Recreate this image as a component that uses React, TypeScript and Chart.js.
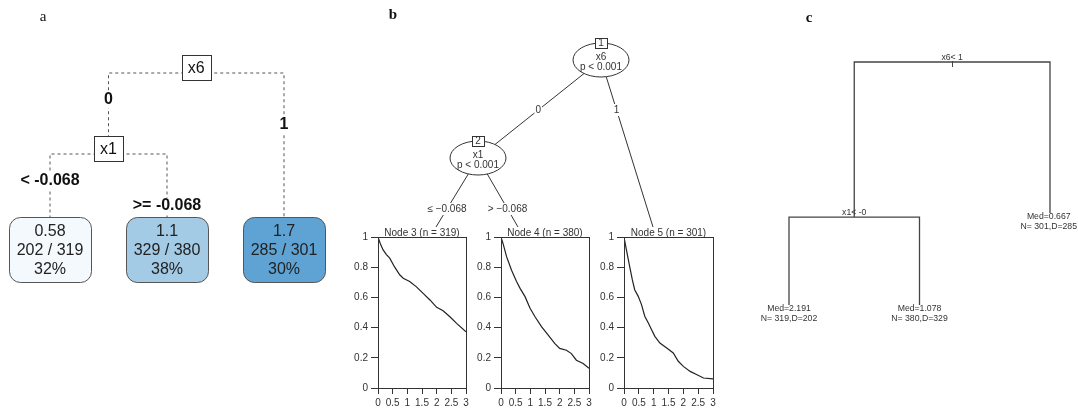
import React, { useEffect, useRef } from "react";
import { Chart, registerables } from "chart.js";

Chart.register(...registerables);

const SANS = "'Liberation Sans', Arial, Helvetica, sans-serif";
const SERIF = "'Liberation Serif', 'Times New Roman', serif";
Chart.defaults.font.family = SANS;

// ================= DATA =================
// Panel a (rpart.plot)
const aSplitVars = ["x6", "x1"];
const aEdgeLabels = ["0", "1", "< -0.068", ">= -0.068"];
const aLeafMeans = ["0.58", "1.1", "1.7"];
const aLeafEvents = [202, 329, 285];
const aLeafN = [319, 380, 301];
const aLeafPct = ["32%", "38%", "30%"];
const aLeafColors = ["#f4f9fe", "#a3cbe6", "#5ea3d3"];

// Panel b (ctree)
const bInnerIds = [1, 2];
const bInnerVars = ["x6", "x1"];
const bInnerP = ["p < 0.001", "p < 0.001"];
const bEdgeLabels = ["0", "1", "\u2264 \u22120.068", "> \u22120.068"];
const bTermIds = [3, 4, 5];
const bTermN = [319, 380, 301];

const surv3Time = [0, 0.08, 0.17, 0.28, 0.4, 0.57, 0.74, 0.86, 1.08, 1.31, 1.54, 1.77, 2.0, 2.22, 2.45, 2.68, 3.0];
const surv3Prob = [1, 0.955, 0.916, 0.885, 0.86, 0.8, 0.75, 0.727, 0.705, 0.67, 0.627, 0.583, 0.534, 0.512, 0.472, 0.428, 0.372];
const surv4Time = [0, 0.08, 0.19, 0.36, 0.53, 0.65, 0.82, 0.99, 1.16, 1.38, 1.61, 1.83, 2.0, 2.23, 2.4, 2.57, 2.8, 3.0];
const surv4Prob = [1, 0.95, 0.87, 0.78, 0.705, 0.66, 0.605, 0.528, 0.472, 0.406, 0.35, 0.295, 0.262, 0.25, 0.228, 0.184, 0.162, 0.13];
const surv5Time = [0, 0.08, 0.19, 0.28, 0.36, 0.48, 0.59, 0.7, 0.82, 0.93, 1.04, 1.21, 1.44, 1.66, 1.83, 2.0, 2.23, 2.46, 2.68, 3.0];
const surv5Prob = [1, 0.916, 0.806, 0.717, 0.651, 0.607, 0.552, 0.475, 0.43, 0.386, 0.342, 0.298, 0.265, 0.232, 0.177, 0.143, 0.11, 0.088, 0.066, 0.06];
const survTimes = [surv3Time, surv4Time, surv5Time];
const survProbs = [surv3Prob, surv4Prob, surv5Prob];
const survYTicks = [0, 0.2, 0.4, 0.6, 0.8, 1];
const survXTicks = [0, 0.5, 1, 1.5, 2, 2.5, 3];

// Panel c (rpart plot)
const cSplitLabels = ["x6< 1", "x1< -0"];
const cLeafMed = ["2.191", "1.078", "0.667"];
const cLeafN = [319, 380, 301];
const cLeafD = [202, 329, 285];
const cSplitHeight = [1, 0.362];
const cLeafHeight = [0, 0, 0.379];

// ================= LAYOUT =================
const A_W = 360, A_H = 414;
const A_LEAF_X0 = 50, A_LEAF_STEP = 117, A_TOP0 = 55, A_DEPTH_STEP = 81, A_BAR = 18;
const B_W = 360, B_H = 232;
const bPos: Record<string, [number, number]> = {
  n1: [241, 60], n2: [118, 158], t3: [76, 227], t4: [158, 227], t5: [293, 227],
};
const bEdges = [
  { from: "n1", to: "n2", label: 0, ly: 110 },
  { from: "n1", to: "t5", label: 1, ly: 110 },
  { from: "n2", to: "t3", label: 2, ly: 209 },
  { from: "n2", to: "t4", label: 3, ly: 209 },
];
const bSurvPlotLeft = [378, 501, 624];
const bSurvPlotWidth = [88, 88, 89];
const C_W = 358, C_H = 414;
const C_LEAF_X0 = 69, C_LEAF_STEP = 130.5, C_BOTTOM = 305, C_TOPPX = 62;

type TNode = { split?: number; leaf?: number; edge?: number; kids?: TNode[]; x?: number; d?: number };

function layoutTree(n: TNode, d: number): number {
  n.d = d;
  if (n.kids) {
    const xs = n.kids.map((k) => layoutTree(k, d + 1));
    n.x = (xs[0] + xs[xs.length - 1]) / 2;
  } else n.x = n.leaf!;
  return n.x!;
}
function collect(n: TNode, out: TNode[] = []): TNode[] {
  out.push(n);
  (n.kids || []).forEach((k) => collect(k, out));
  return out;
}

const baseOptions = (xMin: number, xMax: number, yMin: number, yMax: number, reverse: boolean) => ({
  responsive: false,
  animation: false,
  events: [],
  layout: { padding: 0 },
  plugins: { legend: { display: false }, tooltip: { enabled: false } },
  scales: {
    x: { type: "linear", min: xMin, max: xMax, display: false },
    y: { type: "linear", min: yMin, max: yMax, reverse, display: false },
  },
});

// ---------- Panel a ----------
function makePanelA() {
  const tree: TNode = {
    split: 0,
    kids: [
      { edge: 0, split: 1, kids: [{ edge: 2, leaf: 0 }, { edge: 3, leaf: 1 }] },
      { edge: 1, leaf: 2 },
    ],
  };
  layoutTree(tree, 0);
  const nodes = collect(tree);
  // rpart.plot puts all leaves on the bottom row
  const maxDepth = Math.max(...nodes.map((n) => n.d!));
  nodes.filter((n) => !n.kids).forEach((n) => { n.d = maxDepth; });
  const bar = A_BAR / A_DEPTH_STEP;
  const datasets: any[] = [];
  nodes.filter((n) => n.kids).forEach((s) => {
    s.kids!.forEach((k) => {
      datasets.push({
        data: [{ x: s.x, y: s.d! + bar }, { x: k.x, y: s.d! + bar }, { x: k.x, y: k.d }],
        showLine: true, borderColor: "#555", borderWidth: 1, borderDash: [3, 3], pointRadius: 0,
      });
    });
  });
  const plugin = {
    id: "panelA",
    afterDraw(chart: any) {
      const { ctx } = chart;
      const xs = chart.scales.x, ys = chart.scales.y;
      ctx.save();
      ctx.textAlign = "center";
      ctx.textBaseline = "middle";
      ctx.fillStyle = "#111";
      ctx.font = `15px ${SERIF}`;
      ctx.fillText("a", 43, 17);
      // edge labels
      ctx.font = `bold 16px ${SANS}`;
      nodes.filter((n) => n.kids).forEach((s) => {
        const barPx = ys.getPixelForValue(s.d! + bar);
        s.kids!.forEach((k, i) => {
          const txt = aEdgeLabels[k.edge!];
          const x = xs.getPixelForValue(k.x);
          const y = barPx + (i === 0 ? 27 : 52);
          const w = ctx.measureText(txt).width;
          ctx.fillStyle = "#fff";
          ctx.fillRect(x - w / 2 - 2, y - 8, w + 4, 16);
          ctx.fillStyle = "#111";
          ctx.fillText(txt, x, y);
        });
      });
      // split boxes
      ctx.font = `16px ${SANS}`;
      nodes.filter((n) => n.kids).forEach((s) => {
        const txt = aSplitVars[s.split!];
        const cx = xs.getPixelForValue(s.x), top = ys.getPixelForValue(s.d);
        const w = Math.round(ctx.measureText(txt).width + 12);
        ctx.fillStyle = "#fff";
        ctx.fillRect(Math.round(cx - w / 2) + 0.5, Math.round(top) + 0.5, w, 25);
        ctx.strokeStyle = "#333";
        ctx.lineWidth = 1;
        ctx.strokeRect(Math.round(cx - w / 2) + 0.5, Math.round(top) + 0.5, w, 25);
        ctx.fillStyle = "#111";
        ctx.fillText(txt, cx, top + 13.5);
      });
      // leaves
      nodes.filter((n) => !n.kids).forEach((l) => {
        const i = l.leaf!;
        const cx = xs.getPixelForValue(l.x), top = ys.getPixelForValue(l.d);
        const w = 82, h = 65;
        ctx.beginPath();
        ctx.roundRect(Math.round(cx - w / 2) + 0.5, Math.round(top) + 0.5, w, h, 11);
        ctx.fillStyle = aLeafColors[i];
        ctx.fill();
        ctx.strokeStyle = "#555";
        ctx.lineWidth = 1;
        ctx.stroke();
        ctx.fillStyle = "#222";
        ctx.font = `16px ${SANS}`;
        ctx.fillText(aLeafMeans[i], cx, top + 15);
        ctx.fillText(`${aLeafEvents[i]} / ${aLeafN[i]}`, cx, top + 34);
        ctx.fillText(aLeafPct[i], cx, top + 53);
      });
      ctx.restore();
    },
  };
  return {
    type: "scatter",
    data: { datasets },
    options: baseOptions(-A_LEAF_X0 / A_LEAF_STEP, (A_W - A_LEAF_X0) / A_LEAF_STEP, -A_TOP0 / A_DEPTH_STEP, (A_H - A_TOP0) / A_DEPTH_STEP, true),
    plugins: [plugin],
  };
}

// ---------- Panel b tree ----------
function makePanelBTree() {
  const datasets = bEdges.map((e) => ({
    data: [{ x: bPos[e.from][0], y: bPos[e.from][1] }, { x: bPos[e.to][0], y: bPos[e.to][1] }],
    showLine: true, borderColor: "#333", borderWidth: 1, pointRadius: 0,
  }));
  const plugin = {
    id: "panelB",
    afterDraw(chart: any) {
      const { ctx } = chart;
      const xs = chart.scales.x, ys = chart.scales.y;
      const P = (k: string) => [xs.getPixelForValue(bPos[k][0]), ys.getPixelForValue(bPos[k][1])];
      ctx.save();
      ctx.textAlign = "center";
      ctx.textBaseline = "middle";
      ctx.fillStyle = "#111";
      ctx.font = `bold 15px ${SERIF}`;
      ctx.fillText("b", 33, 15);
      // edge labels
      ctx.font = `10px ${SANS}`;
      bEdges.forEach((e) => {
        const [x1, y1] = P(e.from), [x2, y2] = P(e.to);
        const ly = ys.getPixelForValue(e.ly);
        const lx = x1 + ((ly - y1) * (x2 - x1)) / (y2 - y1);
        const txt = bEdgeLabels[e.label];
        const w = ctx.measureText(txt).width;
        ctx.fillStyle = "#fff";
        ctx.fillRect(lx - w / 2 - 1, ly - 6, w + 2, 12);
        ctx.fillStyle = "#333";
        ctx.fillText(txt, lx, ly);
      });
      // inner nodes
      ["n1", "n2"].forEach((k, i) => {
        const [cx, cy] = P(k);
        ctx.beginPath();
        ctx.ellipse(cx, cy, 28, 17, 0, 0, Math.PI * 2);
        ctx.fillStyle = "#fff";
        ctx.fill();
        ctx.strokeStyle = "#333";
        ctx.lineWidth = 1;
        ctx.stroke();
        ctx.fillStyle = "#fff";
        ctx.fillRect(Math.round(cx - 6) + 0.5, Math.round(cy - 22) + 0.5, 12, 10);
        ctx.strokeRect(Math.round(cx - 6) + 0.5, Math.round(cy - 22) + 0.5, 12, 10);
        ctx.fillStyle = "#333";
        ctx.font = `10px ${SANS}`;
        ctx.fillText(String(bInnerIds[i]), cx, cy - 16.5);
        ctx.fillText(bInnerVars[i], cx, cy - 3);
        ctx.fillText(bInnerP[i], cx, cy + 7);
      });
      ctx.restore();
    },
  };
  return {
    type: "scatter",
    data: { datasets },
    options: baseOptions(0, B_W, 0, B_H, true),
    plugins: [plugin],
  };
}

// ---------- Survival panels ----------
function makeSurv(idx: number) {
  const times = survTimes[idx], probs = survProbs[idx];
  const plugin = {
    id: "survFrame",
    afterDraw(chart: any) {
      const { ctx, chartArea: a } = chart;
      ctx.save();
      ctx.strokeStyle = "#333";
      ctx.lineWidth = 1;
      ctx.strokeRect(Math.round(a.left) + 0.5, Math.round(a.top) + 0.5, Math.round(a.right - a.left), Math.round(a.bottom - a.top));
      ctx.fillStyle = "#333";
      ctx.font = `10px ${SANS}`;
      ctx.textAlign = "center";
      ctx.textBaseline = "middle";
      ctx.fillText(`Node ${bTermIds[idx]} (n = ${bTermN[idx]})`, (a.left + a.right) / 2, a.top - 4);
      ctx.restore();
    },
  };
  const axisCommon = {
    type: "linear",
    grid: { display: true, drawOnChartArea: false, drawTicks: true, color: "#333" },
    border: { display: true, color: "#333" },
  };
  return {
    type: "scatter",
    data: {
      datasets: [{
        data: times.map((t, i) => ({ x: t, y: probs[i] })),
        showLine: true, borderColor: "#222", borderWidth: 1.2, pointRadius: 0, tension: 0,
      }],
    },
    options: {
      responsive: false,
      animation: false,
      events: [],
      layout: { padding: { top: 12, right: 6, left: 0, bottom: 0 } },
      plugins: { legend: { display: false }, tooltip: { enabled: false } },
      scales: {
        x: {
          ...axisCommon,
          min: 0, max: 3,
          grid: { ...axisCommon.grid, tickLength: 6 },
          afterBuildTicks: (s: any) => { s.ticks = survXTicks.map((v) => ({ value: v })); },
          ticks: { color: "#333", font: { size: 10 }, padding: 3, maxRotation: 0, minRotation: 0, autoSkip: false, callback: (v: any) => String(v) },
          afterFit: (s: any) => { s.height = 26; },
        },
        y: {
          ...axisCommon,
          min: 0, max: 1,
          grid: { ...axisCommon.grid, tickLength: 7 },
          afterBuildTicks: (s: any) => { s.ticks = survYTicks.map((v) => ({ value: v })); },
          ticks: { color: "#333", font: { size: 10 }, padding: 3, autoSkip: false, callback: (v: any) => String(v) },
          afterFit: (s: any) => { s.width = 30; },
        },
      },
    },
    plugins: [plugin],
  };
}

// ---------- Panel c ----------
function makePanelC() {
  const tree: TNode = { split: 0, kids: [{ split: 1, kids: [{ leaf: 0 }, { leaf: 1 }] }, { leaf: 2 }] };
  layoutTree(tree, 0);
  const nodes = collect(tree);
  const h = (n: TNode) => (n.kids ? cSplitHeight[n.split!] : cLeafHeight[n.leaf!]);
  const datasets = nodes.filter((n) => n.kids).map((s) => {
    const L = s.kids![0], R = s.kids![1];
    return {
      data: [{ x: L.x, y: h(L) }, { x: L.x, y: h(s) }, { x: R.x, y: h(s) }, { x: R.x, y: h(R) }],
      showLine: true, borderColor: "#444", borderWidth: 1.3, pointRadius: 0,
    };
  });
  const range = C_H / (C_BOTTOM - C_TOPPX);
  const yMax = (C_BOTTOM / C_H) * range;
  const plugin = {
    id: "panelC",
    afterDraw(chart: any) {
      const { ctx } = chart;
      const xs = chart.scales.x, ys = chart.scales.y;
      ctx.save();
      ctx.textAlign = "center";
      ctx.textBaseline = "middle";
      ctx.fillStyle = "#111";
      ctx.font = `bold 15px ${SERIF}`;
      ctx.fillText("c", 89, 18);
      ctx.fillStyle = "#333";
      ctx.font = `8.7px ${SANS}`;
      nodes.forEach((n) => {
        const x = xs.getPixelForValue(n.x);
        const y = ys.getPixelForValue(h(n));
        if (n.kids) {
          ctx.textBaseline = "bottom";
          ctx.fillText(cSplitLabels[n.split!], x, y);
          if (n.split === 0) {
            ctx.strokeStyle = "#444";
            ctx.lineWidth = 1;
            ctx.beginPath();
            ctx.moveTo(Math.round(x) + 0.5, y - 1);
            ctx.lineTo(Math.round(x) + 0.5, y + 5);
            ctx.stroke();
          }
        } else {
          const i = n.leaf!;
          ctx.textBaseline = "middle";
          const l1 = `Med=${cLeafMed[i]}`, l2 = `N= ${cLeafN[i]},D=${cLeafD[i]}`;
          const w = Math.max(ctx.measureText(l1).width, ctx.measureText(l2).width);
          const tx = Math.min(x, chart.width - w / 2 - 1);
          ctx.fillText(l1, tx, y + 4);
          ctx.fillText(l2, tx, y + 14);
        }
      });
      ctx.restore();
    },
  };
  return {
    type: "scatter",
    data: { datasets },
    options: baseOptions(-C_LEAF_X0 / C_LEAF_STEP, (C_W - C_LEAF_X0) / C_LEAF_STEP, yMax - range, yMax, false),
    plugins: [plugin],
  };
}

function ChartBox({ left, top, width, height, make }: { left: number; top: number; width: number; height: number; make: () => any }) {
  const ref = useRef<HTMLCanvasElement>(null);
  useEffect(() => {
    const chart = new Chart(ref.current as HTMLCanvasElement, make());
    return () => chart.destroy();
  }, []);
  return (
    <canvas
      ref={ref}
      width={width}
      height={height}
      style={{ position: "absolute", left, top, width, height, display: "block" }}
    />
  );
}

export default function App() {
  return (
    <div style={{ position: "fixed", left: 0, top: 0, width: 1078, height: 414, background: "#fff", overflow: "hidden" }}>
      <ChartBox left={0} top={0} width={A_W} height={A_H} make={makePanelA} />
      <ChartBox left={360} top={0} width={B_W} height={B_H} make={makePanelBTree} />
      {bTermIds.map((id, i) => (
        <ChartBox
          key={id}
          left={bSurvPlotLeft[i] - 30}
          top={225}
          width={30 + bSurvPlotWidth[i] + 6}
          height={189}
          make={() => makeSurv(i)}
        />
      ))}
      <ChartBox left={720} top={0} width={C_W} height={C_H} make={makePanelC} />
    </div>
  );
}
